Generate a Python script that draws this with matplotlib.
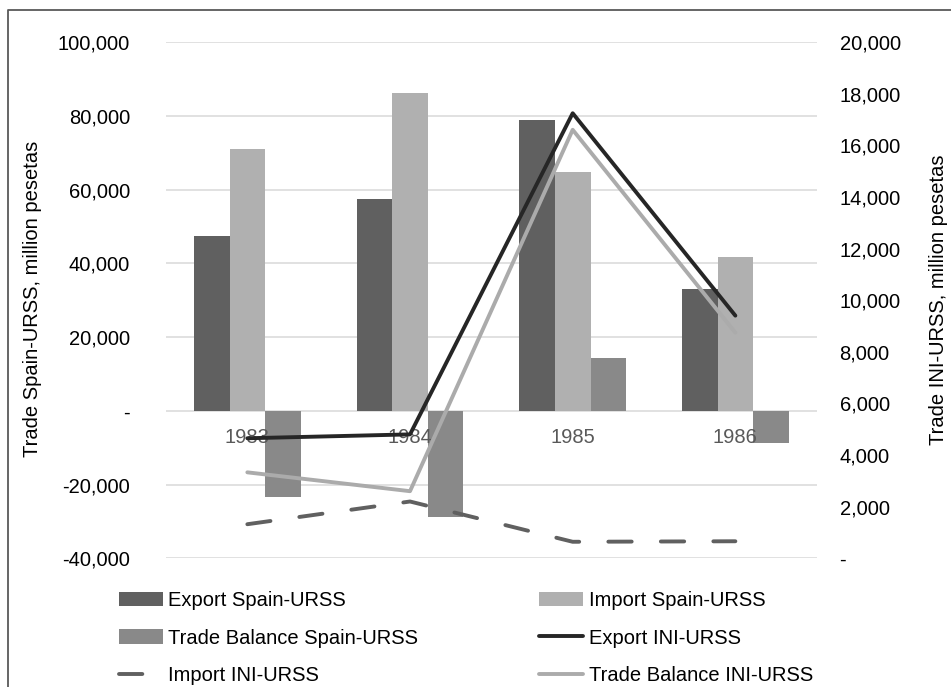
import matplotlib
matplotlib.use("Agg")
import matplotlib.pyplot as plt
import matplotlib.ticker as mticker
from matplotlib.lines import Line2D
import numpy as np

plt.rcParams['font.family'] = ['Liberation Sans', 'DejaVu Sans']

years = ['1983', '1984', '1985', '1986']
export_spain = [47500, 57400, 78900, 33100]
import_spain = [71000, 86300, 64700, 41800]
balance_spain = [-23500, -28900, 14200, -8700]
export_ini = [4650, 4800, 17240, 9400]
import_ini = [1320, 2200, 640, 660]
balance_ini = [3330, 2600, 16600, 8740]

FS = 14.5
W, H = 951, 687
fig = plt.figure(figsize=(W / 100, H / 100), dpi=100)
ax = fig.add_axes([166 / W, 1 - 558.3 / H, (816.7 - 166) / W, (558.3 - 42) / H])
ax2 = ax.twinx()

x = np.arange(len(years))
bw = 0.219
c_exp, c_imp, c_bal = '#606060', '#b0b0b0', '#898989'
b1 = ax.bar(x - bw, export_spain, bw, color=c_exp, zorder=2, label='Export Spain-URSS')
b2 = ax.bar(x, import_spain, bw, color=c_imp, zorder=2, label='Import Spain-URSS')
b3 = ax.bar(x + bw, balance_spain, bw, color=c_bal, zorder=2, label='Trade Balance Spain-URSS')

ax.set_xlim(-0.5, len(years) - 0.5)
ax.set_ylim(-40000, 100000)
ax.yaxis.set_major_locator(mticker.MultipleLocator(20000))
fmt = mticker.FuncFormatter(lambda v, p: '-' if abs(v) < 1e-9 else f'{v:,.0f}')
ax.yaxis.set_major_formatter(fmt)
ax.grid(axis='y', color='#d9d9d9', linewidth=1.1, zorder=0)
ax.set_axisbelow(True)
ax.set_xticks([])
for s in ax.spines.values():
    s.set_visible(False)
ax.tick_params(axis='y', length=0, pad=26, labelsize=FS, labelcolor='#000000')

for i, yl in enumerate(years):
    ax.annotate(yl, xy=(x[i], 0), xytext=(0, -19.5), textcoords='offset points',
                ha='center', va='center', fontsize=FS, color='#595959', zorder=3)

ax2.set_ylim(0, 20000)
ax2.yaxis.set_major_locator(mticker.MultipleLocator(2000))
ax2.yaxis.set_major_formatter(fmt)
for s in ax2.spines.values():
    s.set_visible(False)
ax2.tick_params(axis='y', length=0, pad=16.5, labelsize=FS, labelcolor='#000000')

l1, = ax2.plot(x, export_ini, color='#262626', lw=2.8, solid_capstyle='round', label='Export INI-URSS', zorder=5)
l2, = ax2.plot(x, import_ini, color='#606060', lw=2.8, dashes=(6, 7.5), dash_capstyle='round', label='Import INI-URSS', zorder=4)
l3, = ax2.plot(x, balance_ini, color='#ababab', lw=2.8, solid_capstyle='round', label='Trade Balance INI-URSS', zorder=4)

fig.text(33 / W, 1 - 299 / H, 'Trade Spain-URSS, million pesetas', rotation=90,
         ha='center', va='center', fontsize=FS)
fig.text(938 / W, 1 - 300 / H, 'Trade INI-URSS, million pesetas', rotation=90,
         ha='center', va='center', fontsize=FS)

handles = [b1, b3, l2, b2, l1, l3]
labels = [h.get_label() for h in handles]
fig.legend(handles, labels, ncol=2, loc='upper left',
           bbox_to_anchor=(119 / W, 1 - 591 / H), bbox_transform=fig.transFigure,
           frameon=False, fontsize=FS, handlelength=2.2, handletextpad=0.25,
           columnspacing=6.0, labelspacing=0.92, borderpad=0, borderaxespad=0)

fig.add_artist(Line2D([8 / W, 8 / W, 1], [0, 1 - 10 / H, 1 - 10 / H],
                      transform=fig.transFigure, color='#595959', lw=1.3))

fig.savefig('out.png', dpi=100)
